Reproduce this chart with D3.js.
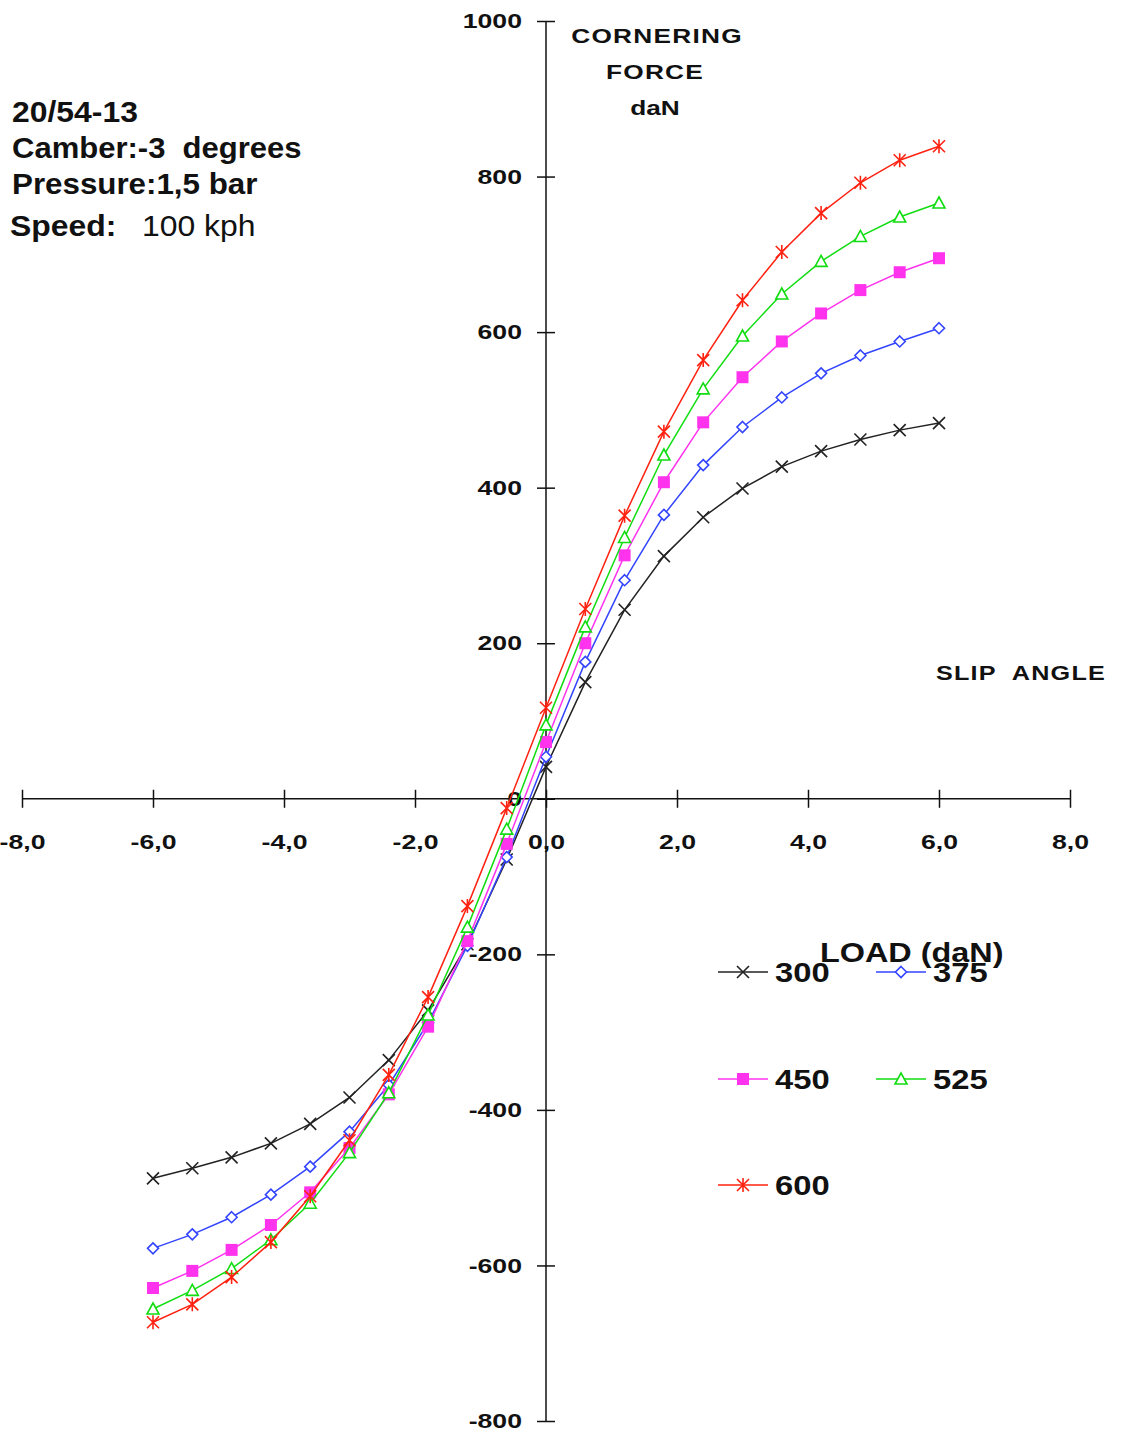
<!DOCTYPE html>
<html>
<head>
<meta charset="utf-8">
<script src="https://cdn.jsdelivr.net/npm/d3@7"></script>
<style>
  body { margin: 0; background: #fff; }
  svg text { font-family: "Liberation Sans", Arial, sans-serif; fill: #111; }
</style>
</head>
<body>
<svg width="1121" height="1434"></svg>
<script>
// slip angle (deg)
const slip = [-6, -5.4, -4.8, -4.2, -3.6, -3.0, -2.4, -1.8, -1.2, -0.6, 0,
              0.6, 1.2, 1.8, 2.4, 3.0, 3.6, 4.2, 4.8, 5.4, 6.0];
// cornering force (daN) per load
const load300 = [-488, -475, -461, -443, -418, -384, -336, -272, -187, -78, 41,
                 150, 243, 312, 362, 399, 427, 447, 462, 474, 483];
const load375 = [-578, -560, -538, -509, -473, -428, -368, -288, -189, -75, 54,
                 176, 281, 365, 429, 478, 516, 547, 570, 588, 605];
const load450 = [-629, -607, -580, -548, -506, -449, -380, -293, -183, -58, 73,
                 200, 313, 407, 484, 542, 588, 624, 654, 677, 695];
const load525 = [-656, -632, -604, -567, -520, -455, -378, -278, -165, -39, 95,
                 221, 336, 442, 527, 595, 649, 691, 723, 748, 766];
const load600 = [-673, -650, -615, -570, -511, -439, -355, -255, -138, -12, 117,
                 244, 364, 472, 564, 641, 703, 753, 792, 821, 839];

const xTicks = [-8, -6, -4, -2, 0, 2, 4, 6, 8];
const yTicks = [1000, 800, 600, 400, 200, 0, -200, -400, -600, -800];

const series = [
  {name: "300", values: load300, color: "#222222", marker: "x"},
  {name: "375", values: load375, color: "#3344ff", marker: "diamond"},
  {name: "450", values: load450, color: "#ff33ee", marker: "square"},
  {name: "525", values: load525, color: "#11dd11", marker: "triangle"},
  {name: "600", values: load600, color: "#ff2211", marker: "star"}
];

const svg = d3.select("svg");
const x = d3.scaleLinear().domain([-8, 8]).range([22, 1070]);
const y = d3.scaleLinear().domain([-800, 1000]).range([1421, 21]);

// text in the original is stretched sideways
const SX = 1.3;
const fmtX = v => d3.format(".1f")(v).replace(".", ",").replace("\u2212", "-");
const fmtY = v => String(v);

// x axis through zero
const gx = svg.append("g")
  .attr("transform", `translate(0,${y(0)})`)
  .call(d3.axisBottom(x).tickValues(xTicks).tickSize(9).tickPadding(27).tickFormat(fmtX));
gx.select(".domain").attr("stroke", "#111").attr("stroke-width", 1.5)
  .attr("d", `M${x(-8)},0H${x(8)}`);
gx.selectAll(".tick line").attr("y1", -9).attr("stroke", "#111").attr("stroke-width", 1.5);
gx.selectAll(".tick text")
  .attr("font-size", 20.5).attr("font-weight", "bold").attr("fill", "#111")
  .attr("font-family", "Liberation Sans, Arial, sans-serif")
  .attr("transform", `scale(${SX},1)`);

// y axis through zero
const gy = svg.append("g")
  .attr("transform", `translate(${x(0)},0)`)
  .call(d3.axisLeft(y).tickValues(yTicks).tickSize(9).tickPadding(14).tickFormat(fmtY));
gy.select(".domain").attr("stroke", "#111").attr("stroke-width", 1.5)
  .attr("d", `M0,${y(1000)}V${y(-800)}`);
gy.selectAll(".tick line").attr("x2", 9).attr("x1", -9).attr("stroke", "#111").attr("stroke-width", 1.5);
gy.selectAll(".tick text")
  .attr("font-size", 20.5).attr("font-weight", "bold").attr("fill", "#111")
  .attr("font-family", "Liberation Sans, Arial, sans-serif")
  .attr("x", -24 / SX)
  .attr("transform", `scale(${SX},1)`);

// marker shapes
function drawMarker(g, kind, color) {
  if (kind === "x") {
    g.append("path").attr("d", "M-6,-6L6,6M-6,6L6,-6")
      .attr("stroke", color).attr("stroke-width", 1.6).attr("fill", "none");
  } else if (kind === "diamond") {
    g.append("path").attr("d", "M0,-5.5L5.5,0L0,5.5L-5.5,0Z")
      .attr("stroke", color).attr("stroke-width", 1.6).attr("fill", "#fff");
  } else if (kind === "square") {
    g.append("rect").attr("x", -6).attr("y", -6).attr("width", 12).attr("height", 12)
      .attr("fill", color);
  } else if (kind === "triangle") {
    g.append("path").attr("d", "M0,-6L6,5H-6Z")
      .attr("stroke", color).attr("stroke-width", 1.6).attr("fill", "#fff");
  } else if (kind === "star") {
    g.append("path").attr("d", "M-6,-6L6,6M-6,6L6,-6M0,-7V7")
      .attr("stroke", color).attr("stroke-width", 1.6).attr("fill", "none");
  }
}

const line = d3.line().x(d => x(d[0])).y(d => y(d[1]));

series.forEach(s => {
  const pts = slip.map((v, i) => [v, s.values[i]]);
  svg.append("path")
    .attr("d", line(pts))
    .attr("fill", "none")
    .attr("stroke", s.color)
    .attr("stroke-width", 1.5);
  pts.forEach(p => {
    drawMarker(svg.append("g").attr("transform", `translate(${x(p[0])},${y(p[1])})`), s.marker, s.color);
  });
});

// stretched text helper
function label(px, py, txt, size, opts = {}) {
  const t = svg.append("text")
    .attr("transform", `translate(${px},${py}) scale(${opts.sx || 1},1)`)
    .attr("font-size", size)
    .attr("font-weight", opts.weight || "bold")
    .attr("text-anchor", opts.anchor || "start")
    .attr("xml:space", "preserve");
  if (opts.spacing) t.attr("letter-spacing", opts.spacing);
  t.text(txt);
  return t;
}

// axis titles
label(657, 43, "CORNERING", 21, {sx: 1.25, anchor: "middle", spacing: 1});
label(655, 79, "FORCE", 21, {sx: 1.25, anchor: "middle", spacing: 1});
label(655, 115, "daN", 21, {sx: 1.25, anchor: "middle"});
label(936, 680, "SLIP  ANGLE", 21, {sx: 1.2, spacing: 1});

// info block
label(12, 122, "20/54-13", 29, {sx: 1.1});
label(12, 158, "Camber:-3  degrees", 29, {sx: 1.07});
label(12, 194, "Pressure:1,5 bar", 29, {sx: 1.08});
label(10, 236, "Speed:", 29, {sx: 1.1});
label(142, 236, "100 kph", 29, {sx: 1.1, weight: "normal"});

// legend
label(820, 962, "LOAD (daN)", 27, {sx: 1.2});

const legendPos = [
  {x: 718, y: 972}, {x: 876, y: 972},
  {x: 718, y: 1079}, {x: 876, y: 1079},
  {x: 718, y: 1185}
];
series.forEach((s, i) => {
  const p = legendPos[i];
  const g = svg.append("g").attr("transform", `translate(${p.x},${p.y})`);
  g.append("line").attr("x1", 0).attr("x2", 50).attr("stroke", s.color).attr("stroke-width", 1.5);
  drawMarker(g.append("g").attr("transform", "translate(25,0)"), s.marker, s.color);
  g.append("text").attr("transform", "translate(57,10) scale(1.17,1)")
    .attr("font-size", 28).attr("font-weight", "bold")
    .text(s.name);
});
</script>
</body>
</html>
